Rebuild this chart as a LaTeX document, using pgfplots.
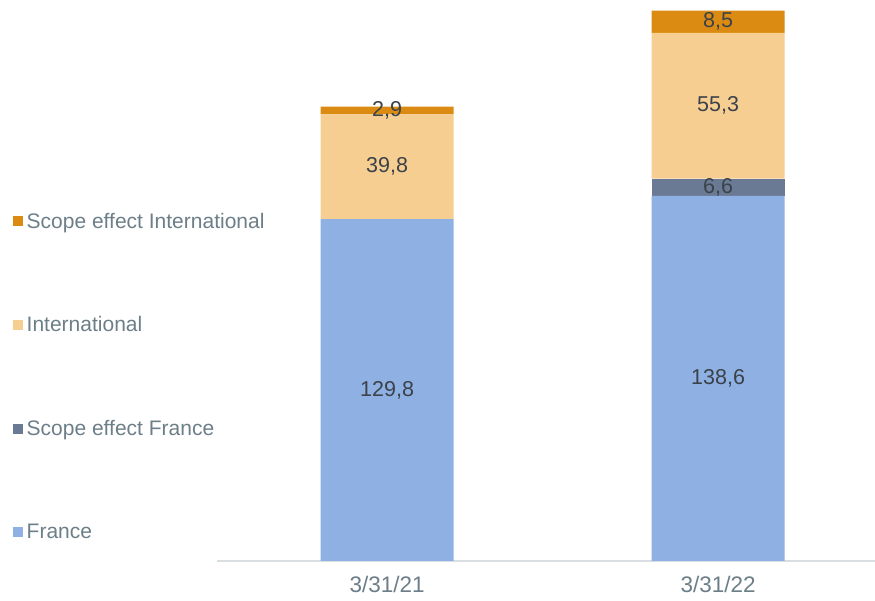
\documentclass[border=0pt]{standalone}
\usepackage{fontspec}
\setmainfont{Liberation Sans}
\usepackage{pgfplots}
\pgfplotsset{compat=1.18}
\definecolor{cfr}{HTML}{8EB0E3}
\definecolor{cscfr}{HTML}{6B7A94}
\definecolor{cint}{HTML}{F6CE91}
\definecolor{cscint}{HTML}{DB8B12}
\definecolor{lbl}{HTML}{3B4249}
\definecolor{grytxt}{HTML}{6C7E88}
\definecolor{axgrey}{HTML}{D9DEE2}
\tikzset{seglbl/.style={font=\fontsize{21.5}{25}\selectfont, text=lbl}}

\begin{document}
\begin{tikzpicture}
\path[use as bounding box] (-217pt,-40pt) rectangle (658pt,561pt);
\begin{axis}[
    scale only axis,
    width=658pt, height=561pt,
    ybar stacked, bar width=133pt,
    ymin=0, ymax=213,
    xmin=-0.514, xmax=1.474,
    xtick={0,1}, xticklabels={3/31/21, 3/31/22},
    major tick length=0pt,
    axis x line*=bottom,
    hide y axis,
    x axis line style={axgrey, line width=1.5pt, -},
    xticklabel style={font=\fontsize{22.5}{26}\selectfont, text=grytxt, yshift=-14pt, inner sep=1pt},
    reverse legend,
    legend cell align=left,
    legend style={at={(rel axis cs:-0.31,0.329)}, anchor=west, draw=none, fill=none,
      inner sep=0pt, row sep=83pt, column sep=1.5pt,
      font=\fontsize{21}{24}\selectfont, text=grytxt,
      nodes={inner sep=2pt}},
    legend image code/.code={\fill[#1] (0pt,-5pt) rectangle (10pt,5pt);},
  ]
  \addplot[fill=cfr, draw=none] coordinates {(0,129.8) (1,138.6)};
  \addplot[fill=cscfr, draw=none] coordinates {(0,0) (1,6.6)};
  \addplot[fill=cint, draw=none] coordinates {(0,39.8) (1,55.3)};
  \addplot[fill=cscint, draw=none] coordinates {(0,2.9) (1,8.5)};
  \legend{France, Scope effect France, International, Scope effect International}
  \coordinate (a1) at (axis cs:0,64.9);
  \coordinate (a2) at (axis cs:0,149.7);
  \coordinate (a3) at (axis cs:0,171.05);
  \coordinate (b1) at (axis cs:1,69.3);
  \coordinate (b2) at (axis cs:1,141.9);
  \coordinate (b3) at (axis cs:1,172.85);
  \coordinate (b4) at (axis cs:1,204.75);
\end{axis}
\node[seglbl] at (a1) {129,8};
\node[seglbl] at (a2) {39,8};
\node[seglbl] at (a3) {2,9};
\node[seglbl] at (b1) {138,6};
\node[seglbl] at (b2) {6,6};
\node[seglbl] at (b3) {55,3};
\node[seglbl] at (b4) {8,5};
\end{tikzpicture}
\end{document}
